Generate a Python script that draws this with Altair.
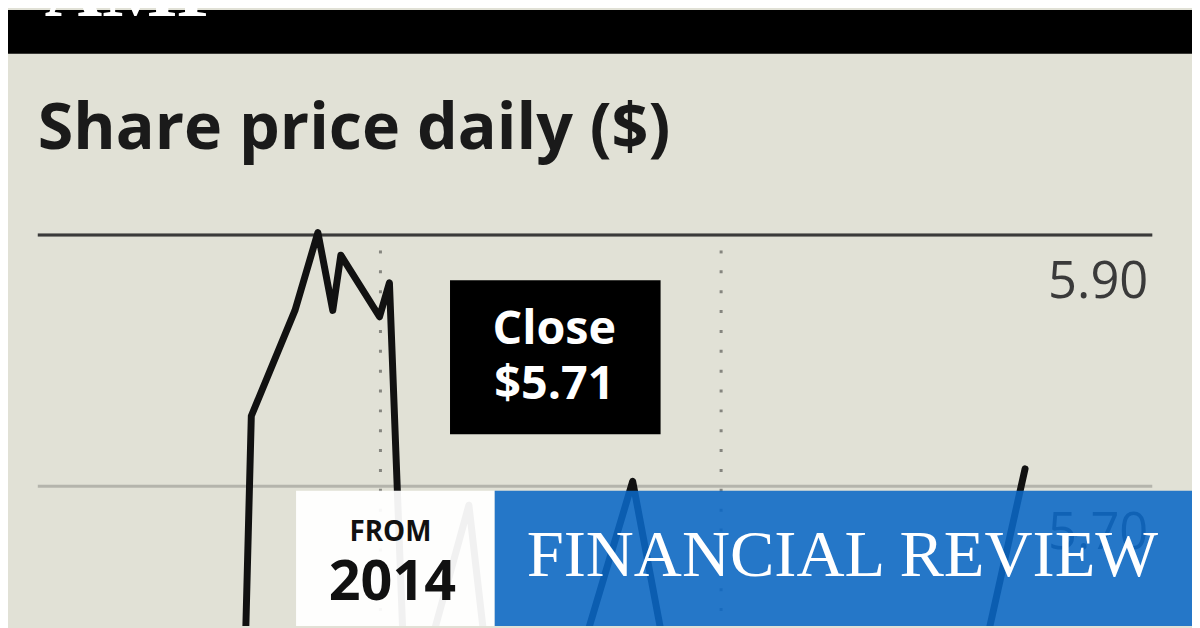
import altair as alt
import pandas as pd

# ---- data ----
days = [13.09, 13.66, 16.48, 17.96, 18.92, 19.44, 21.94, 22.58, 23.60,
        25.34, 27.71, 28.99, 34.51, 38.29, 40.80, 50.67, 60.62, 63.63]
prices = [5.485, 5.756, 5.840, 5.902, 5.840, 5.884, 5.835, 5.862, 5.532,
          5.579, 5.685, 5.548, 5.548, 5.704, 5.540, 5.469, 5.548, 5.714]
grid_values = [5.90, 5.70]
grid_labels = ["5.90", "5.70"]
month_breaks = [22, 44]

W, H = 1192, 620
xscale = alt.Scale(domain=[-2.053, 74.41], range=[0, W], nice=False, zero=False)
yscale = alt.Scale(domain=[5.58893, 6.07905], range=[H, 0], nice=False, zero=False)

line_df = pd.DataFrame({"day": days, "price": prices})
grid_df = pd.DataFrame({"v": grid_values, "label": grid_labels})
month_df = pd.DataFrame({"day": month_breaks})
one = pd.DataFrame({"k": [0]})

band = alt.Chart(one).mark_rect(color="#000000").encode(
    x=alt.value(0), x2=alt.value(W), y=alt.value(0), y2=alt.value(44))
amp = alt.Chart(one).mark_text(text="AMP", font="Liberation Serif", fontWeight="bold",
                                fontSize=80, color="#ffffff", align="left",
                                baseline="alphabetic").encode(x=alt.value(37), y=alt.value(6))
title = alt.Chart(one).mark_text(text="Share price daily ($)", font="Open Sans",
                                  fontWeight="bold", fontSize=65, color="#1a1a1a",
                                  align="left", baseline="alphabetic").encode(
    x=alt.value(30), y=alt.value(140))

grid = alt.Chart(grid_df).mark_rule(color="#b4b4ac", strokeWidth=3).encode(
    y=alt.Y("v:Q", scale=yscale, axis=None), x=alt.value(30), x2=alt.value(1152))
top_rule = alt.Chart(grid_df).transform_filter("datum.v >= 5.9").mark_rule(
    color="#3a3a3a", strokeWidth=3).encode(
    y=alt.Y("v:Q", scale=yscale, axis=None), x=alt.value(30), x2=alt.value(1152))
labels = alt.Chart(grid_df).mark_text(font="Open Sans", fontSize=51, color="#3a3a3a",
                                       align="right", baseline="alphabetic", dy=63).encode(
    y=alt.Y("v:Q", scale=yscale, axis=None), x=alt.value(1148), text="label:N")

months = alt.Chart(month_df).mark_rule(color="#85857f", strokeWidth=3,
                                       strokeDash=[3, 17]).encode(
    x=alt.X("day:Q", scale=xscale, axis=None), y=alt.value(242), y2=alt.value(H))

line = alt.Chart(line_df).mark_line(color="#111111", strokeWidth=7, strokeJoin="round",
                                    strokeCap="round", clip=True).encode(
    x=alt.X("day:Q", scale=xscale, axis=None),
    y=alt.Y("price:Q", scale=yscale, axis=None),
    order="day:Q")

close_box = alt.Chart(one).mark_rect(color="#000000").encode(
    x=alt.value(445), x2=alt.value(657), y=alt.value(272), y2=alt.value(427))
close_t1 = alt.Chart(one).mark_text(text="Close", font="Open Sans", fontWeight="bold",
                                     fontSize=47, color="#ffffff", align="center",
                                     baseline="alphabetic").encode(x=alt.value(550), y=alt.value(336))
close_t2 = alt.Chart(one).mark_text(text="$5.71", font="Open Sans", fontWeight="bold",
                                     fontSize=47, color="#ffffff", align="center",
                                     baseline="alphabetic").encode(x=alt.value(550), y=alt.value(392))

white_box = alt.Chart(one).mark_rect(color="#ffffff", opacity=0.94).encode(
    x=alt.value(290), x2=alt.value(490), y=alt.value(484), y2=alt.value(H))
blue_box = alt.Chart(one).mark_rect(color="#0a68c6", opacity=0.88).encode(
    x=alt.value(490), x2=alt.value(W), y=alt.value(484), y2=alt.value(H))
from_t = alt.Chart(one).mark_text(text="FROM", font="Open Sans", fontWeight="bold",
                                   fontSize=28, color="#111111", align="center",
                                   baseline="alphabetic").encode(x=alt.value(385), y=alt.value(535))
year_t = alt.Chart(one).mark_text(text="2014", font="Open Sans", fontWeight="bold",
                                   fontSize=56, color="#111111", align="center",
                                   baseline="alphabetic").encode(x=alt.value(387), y=alt.value(594))
fr_t = alt.Chart(one).mark_text(text="FINANCIAL REVIEW", font="Liberation Serif",
                                 fontSize=67, color="#ffffff", align="center",
                                 baseline="alphabetic").encode(x=alt.value(840), y=alt.value(570))

chart = alt.layer(
    band, amp, title, grid, top_rule, labels, months, line,
    close_box, close_t1, close_t2, white_box, blue_box, from_t, year_t, fr_t
).properties(
    width=W, height=H, padding=0,
    autosize=alt.AutoSizeParams(type="none"),
    background="#e1e1d6",
).configure_view(stroke=None)

chart.save("out.html", embed_options={"renderer": "svg", "actions": False})
